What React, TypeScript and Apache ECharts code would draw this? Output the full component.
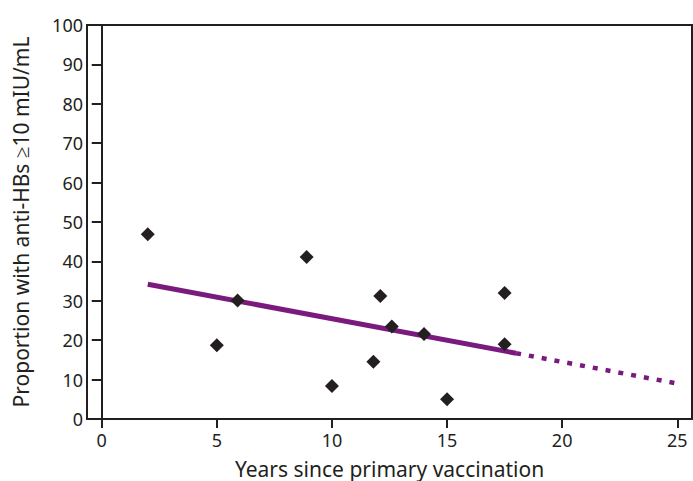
import React, { useEffect, useRef } from "react";
import * as echarts from "echarts";

const xTicks = [0, 5, 10, 15, 20, 25];
const yTicks = [0, 10, 20, 30, 40, 50, 60, 70, 80, 90, 100];
const studyPoints: [number, number][] = [
  [2.0, 46.9],
  [5.0, 18.7],
  [5.9, 30.1],
  [8.9, 41.1],
  [10.0, 8.4],
  [11.8, 14.5],
  [12.1, 31.2],
  [12.6, 23.5],
  [14.0, 21.6],
  [15.0, 5.0],
  [17.5, 32.0],
  [17.5, 19.0],
];
const fitSolid: [number, number][] = [
  [2, 34.2],
  [18, 16.7],
];
const fitProjected: [number, number][] = [
  [18, 16.7],
  [25, 9.0],
];

const INK = "#231f20";
const PURPLE = "#7a1a7f";
const FONT = "Noto Sans";

export default function App() {
  const ref = useRef<HTMLDivElement>(null);
  useEffect(() => {
    if (!ref.current) return;
    const chart = echarts.init(ref.current, null, { renderer: "svg" });
    chart.setOption({
      animation: false,
      backgroundColor: "#fff",
      grid: {
        left: 87,
        top: 25,
        right: 1,
        bottom: 62,
        outerBoundsMode: "none",
        containLabel: false,
        show: true,
        borderColor: INK,
        borderWidth: 2,
        backgroundColor: "transparent",
      },
      xAxis: {
        type: "value",
        min: -0.64,
        max: 25.64,
        name: "Years since primary vaccination",
        nameLocation: "middle",
        nameGap: 39,
        nameTextStyle: { fontFamily: FONT, fontSize: 21, color: INK },
        axisLine: { show: true, lineStyle: { color: INK, width: 2 } },
        axisTick: {
          show: true,
          length: 9,
          customValues: xTicks,
          lineStyle: { color: INK, width: 2 },
        },
        axisLabel: {
          customValues: xTicks,
          fontFamily: FONT,
          fontSize: 18,
          color: INK,
          margin: 12,
        },
        splitLine: { show: false },
      },
      yAxis: {
        type: "value",
        min: 0,
        max: 100,
        interval: 10,
        name: "Proportion with anti-HBs \u226510 mIU/mL",
        nameLocation: "middle",
        nameGap: 56,
        nameTextStyle: { fontFamily: FONT, fontSize: 21, color: INK },
        axisLine: { show: true, lineStyle: { color: INK, width: 2 } },
        axisTick: { show: true, length: 10, lineStyle: { color: INK, width: 2 } },
        axisLabel: {
          fontFamily: FONT,
          fontSize: 18,
          color: INK,
          margin: 4,
          formatter: (v: number) => (yTicks.includes(v) ? String(v) : ""),
        },
        splitLine: { show: false },
      },
      series: [
        {
          type: "line",
          data: fitSolid,
          symbol: "none",
          lineStyle: { color: PURPLE, width: 5 },
          silent: true,
        },
        {
          type: "line",
          data: fitProjected,
          symbol: "none",
          lineStyle: { color: PURPLE, width: 4.5, type: [5, 8] },
          silent: true,
        },
        {
          type: "scatter",
          data: studyPoints,
          symbol: "diamond",
          symbolSize: [14, 14],
          itemStyle: { color: INK, opacity: 1 },
          z: 5,
        },
      ],
    });
    return () => chart.dispose();
  }, []);
  return <div ref={ref} style={{ width: 693, height: 481, position: "fixed", left: 0, top: 0 }} />;
}
